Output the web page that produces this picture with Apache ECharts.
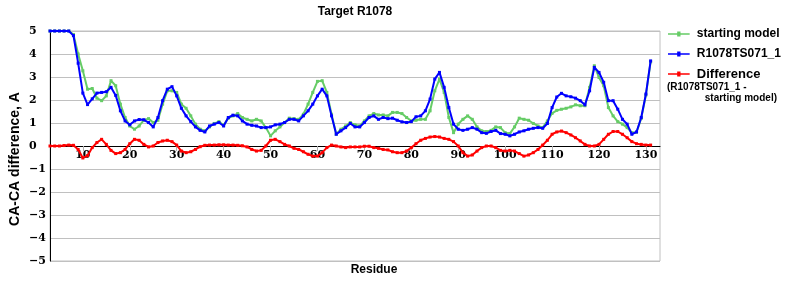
<!DOCTYPE html>
<html>
<head>
<meta charset="utf-8">
<script src="https://cdn.jsdelivr.net/npm/echarts@6/dist/echarts.min.js"></script>
<style>html,body{margin:0;padding:0;background:#fff}#c{width:800px;height:300px}</style>
</head>
<body>
<div id="c"></div>
<script>
// Residue numbers on the axis (3..133); data present for 3..131
const residues = [];
for (let r = 3; r <= 133; r++) residues.push(String(r));

const startingModel = [
5.0,5.0,5.0,5.0,5.0,4.85,4.0,3.27,2.47,2.5,
2.08,1.97,2.18,2.84,2.62,1.82,1.24,0.87,0.73,0.87,
1.12,1.19,1.02,1.12,1.82,2.4,2.4,2.33,1.82,1.64,
1.31,0.95,0.73,0.66,0.83,0.98,1.06,0.9,1.21,1.31,
1.41,1.24,1.16,1.09,1.16,1.09,0.8,0.44,0.66,0.83,
1.02,1.21,1.19,1.16,1.38,1.82,2.33,2.81,2.84,2.33,
1.38,0.51,0.73,0.87,1.02,0.92,0.87,1.09,1.31,1.41,
1.35,1.35,1.31,1.46,1.46,1.41,1.24,1.09,1.12,1.16,
1.16,1.53,2.4,2.91,2.33,1.24,0.58,0.95,1.16,1.31,
1.16,0.83,0.66,0.63,0.68,0.83,0.8,0.58,0.54,0.83,
1.21,1.16,1.12,0.98,0.87,0.8,1.09,1.42,1.55,1.6,
1.64,1.7,1.79,1.75,1.75,2.55,3.49,2.98,2.62,1.67,
1.31,1.06,0.95,0.8,0.58,0.6,1.2,2.22,3.66
];

const modelTS071 = [
5.0,5.0,5.0,5.0,5.0,4.8,3.6,2.3,1.8,2.05,
2.3,2.33,2.36,2.55,2.2,1.53,1.09,0.92,1.09,1.15,
1.14,1.02,0.83,1.24,1.97,2.47,2.58,2.18,1.64,1.31,
1.06,0.83,0.68,0.61,0.87,0.95,1.02,0.87,1.24,1.34,
1.31,1.09,0.95,0.9,0.87,0.8,0.8,0.83,0.92,0.95,
1.02,1.16,1.16,1.09,1.31,1.53,1.82,2.18,2.47,2.18,
1.31,0.51,0.66,0.8,0.98,0.83,0.83,1.02,1.24,1.31,
1.16,1.24,1.19,1.21,1.12,1.05,1.02,1.06,1.27,1.31,
1.53,2.04,2.91,3.2,2.55,1.67,0.95,0.73,0.68,0.73,
0.8,0.73,0.58,0.55,0.63,0.68,0.54,0.51,0.44,0.51,
0.61,0.66,0.73,0.77,0.8,0.77,0.98,1.67,2.13,2.29,
2.18,2.14,2.08,1.97,1.79,2.4,3.42,3.2,2.77,1.97,
1.97,1.6,1.16,0.95,0.51,0.61,1.24,2.26,3.7
];

const difference = [
0,0,0,0.02,0.04,0.03,-0.15,-0.52,-0.42,-0.07,
0.15,0.29,0.07,-0.19,-0.33,-0.29,-0.15,0.1,0.29,0.25,
0.07,-0.04,0,0.15,0.22,0.25,0.19,0.04,-0.22,-0.29,
-0.25,-0.15,-0.03,0.03,0.04,0.04,0.05,0.05,0.04,0.04,
0.03,0.01,-0.04,-0.15,-0.22,-0.19,0,0.25,0.29,0.19,
0.07,0,-0.1,-0.15,-0.25,-0.36,-0.44,-0.44,-0.29,-0.07,
0.04,0,-0.04,-0.07,-0.04,-0.04,-0.04,-0.01,-0.01,-0.07,
-0.1,-0.15,-0.17,-0.25,-0.29,-0.29,-0.22,-0.07,0.1,0.25,
0.33,0.39,0.41,0.39,0.33,0.29,0.19,0,-0.29,-0.44,
-0.39,-0.22,-0.07,0,0,-0.07,-0.19,-0.22,-0.19,-0.22,
-0.33,-0.44,-0.39,-0.29,-0.15,0.04,0.25,0.51,0.61,0.65,
0.58,0.48,0.36,0.22,0.07,0,0,0.07,0.29,0.51,
0.63,0.63,0.51,0.36,0.19,0.1,0.07,0.04,0.04
];

const seriesNames = ['starting model', 'R1078TS071_1', 'Difference'];
const titleText = 'Target R1078';
const yAxisTitle = 'CA-CA difference, A';
const xAxisTitle = 'Residue';
const diffNote1 = '(R1078TS071_1 -';
const diffNote2 = 'starting model)';

const SANS = '"Liberation Sans", Arial, sans-serif';
const SERIF = '"DejaVu Serif", serif';
const tickEvery10 = (i, v) => Number(v) % 10 === 0;
const LEGEND_ICON = 'path://M0,2 L11,2 L11,0 L15,0 L15,2 L26,2 L26,4 L15,4 L15,6 L11,6 L11,4 L0,4 Z';

const chart = echarts.init(document.getElementById('c'), null, {renderer: 'canvas'});
chart.setOption({
  animation: false,
  backgroundColor: '#fff',
  grid: {left: 50, right: 140, top: 31, bottom: 39, show: true, borderColor: '#c0c0c0', borderWidth: 1},
  xAxis: {
    type: 'category',
    data: residues,
    boundaryGap: false,
    offset: -115,
    axisLine: {onZero: false, lineStyle: {color: '#000', width: 1}},
    axisTick: {show: true, interval: tickEvery10, length: 5, lineStyle: {color: '#b0b0b0'}},
    axisLabel: {interval: tickEvery10, margin: 4, color: '#000', fontFamily: SERIF, fontWeight: 'bold', fontSize: 11},
    splitLine: {show: false}
  },
  yAxis: {
    type: 'value',
    min: -5, max: 5, interval: 1,
    axisLine: {show: true, lineStyle: {color: '#000', width: 1}},
    axisTick: {show: false},
    axisLabel: {
      align: 'left', margin: 21, color: '#000', fontFamily: SERIF, fontWeight: 'bold', fontSize: 11,
      formatter: v => String(v).replace('-', '\u2212')
    },
    splitLine: {lineStyle: {color: '#c0c0c0', width: 1}}
  },
  legend: {
    orient: 'vertical',
    left: 668, top: 27, padding: 0,
    itemWidth: 26, itemHeight: 5, itemGap: 6,
    icon: LEGEND_ICON,
    data: seriesNames,
    textStyle: {
      fontFamily: SANS, fontWeight: 'bold', fontSize: 12, color: '#000', lineHeight: 14,
      rich: {big: {fontFamily: SANS, fontWeight: 'bold', fontSize: 13, color: '#000', lineHeight: 14}}
    },
    formatter: n => n === 'Difference' ? '{big|' + n + '}' : n
  },
  graphic: [
    {type: 'text', x: 355, y: 12, style: {text: titleText, font: 'bold 12px ' + SANS, fill: '#000', align: 'center', verticalAlign: 'middle'}},
    {type: 'text', x: 374, y: 270, style: {text: xAxisTitle, font: 'bold 12px ' + SANS, fill: '#000', align: 'center', verticalAlign: 'middle'}},
    {type: 'text', x: 15, y: 159, rotation: Math.PI / 2, style: {text: yAxisTitle, font: 'bold 14px ' + SANS, fill: '#000', align: 'center', verticalAlign: 'middle'}},
    {type: 'text', x: 667, y: 87, style: {text: diffNote1, font: 'bold 10px ' + SANS, fill: '#000', align: 'left', verticalAlign: 'middle'}},
    {type: 'text', x: 777, y: 98, style: {text: diffNote2, font: 'bold 10px ' + SANS, fill: '#000', align: 'right', verticalAlign: 'middle'}}
  ],
  series: [
    {name: seriesNames[0], type: 'line', data: startingModel, color: '#66cc66', symbol: 'rect', symbolSize: 3, showSymbol: true, lineStyle: {width: 2}, z: 2},
    {name: seriesNames[1], type: 'line', data: modelTS071, color: '#0000ff', symbol: 'rect', symbolSize: 3, showSymbol: true, lineStyle: {width: 2}, z: 3},
    {name: seriesNames[2], type: 'line', data: difference, color: '#ff0000', symbol: 'rect', symbolSize: 3, showSymbol: true, lineStyle: {width: 2}, z: 4}
  ]
});
</script>
</body>
</html>
